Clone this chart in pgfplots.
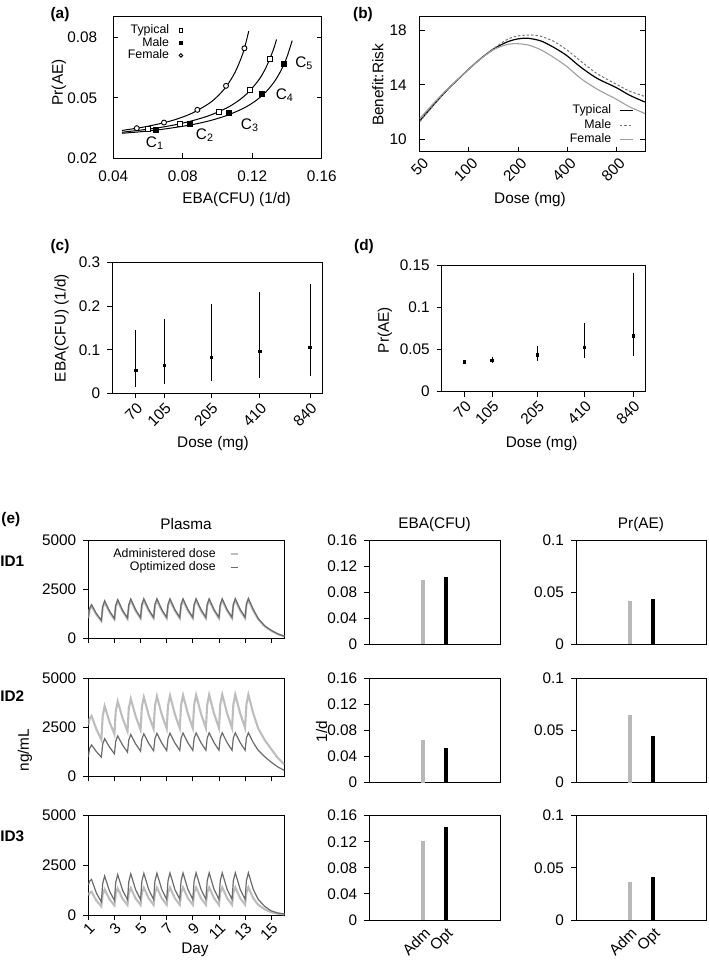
\documentclass[border=0pt]{standalone}
\usepackage{fontspec}
\setmainfont{Liberation Sans}
\usepackage{pgfplots}
\pgfplotsset{compat=1.18}
\definecolor{admgray}{gray}{0.74}
\definecolor{optgray}{gray}{0.42}
\definecolor{femgray}{gray}{0.62}
\definecolor{malegray}{gray}{0.45}
\definecolor{bargray}{gray}{0.72}
\newcommand{\fs}{\fontsize{7.7}{9}\selectfont}
\newcommand{\lfs}{\fontsize{6.2}{7}\selectfont}
\pgfplotsset{
  base/.style={scale only axis, anchor=north west, font=\fs,
    axis line style={line width=0.5bp, black},
    every tick/.style={line width=0.45bp, black},
    major tick length=2.5bp, scaled ticks=false,
    xminorticks=false, yminorticks=false},
  gp/.style={base, tick align=inside, xtick pos=left, ytick pos=both},
  rs/.style={base, tick align=outside, xtick pos=left, ytick pos=left},
  adm/.style={color=admgray, line width=1.05bp},
  opt/.style={color=optgray, line width=0.6bp},
  plasma/.style={rs, width=98bp, xmin=1, xmax=16, ymin=0, ymax=5000,
    xtick={1,3,5,7,9,11,13,15}, ytick={0,2500,5000}, yticklabels={0,2500,5000}},
  eba/.style={rs, width=65.35bp, height=52.15bp, xmin=-2.37, xmax=3.37, ymin=0, ymax=0.16,
    xtick={0,1}, x tick style={draw=none}, ytick={0,0.04,0.08,0.12,0.16},
    yticklabels={0,0.04,0.08,0.12,0.16}},
  prae/.style={rs, width=65bp, height=52.15bp, xmin=-2.3, xmax=3.25, ymin=0, ymax=0.1,
    xtick={0,1}, x tick style={draw=none}, ytick={0,0.05,0.1},
    yticklabels={0,0.05,0.1}},
  dosex/.style={rs, xmin=50, xmax=1000, xtick={70,105,205,410,840},
    xticklabels={70,105,205,410,840},
    xticklabel style={rotate=45, anchor=north east, inner sep=1bp}},
  mklegend/.style={legend image code/.code={\draw[##1, mark size=0.9bp] plot coordinates {(0.9bp,0bp)};}},
}
\begin{document}
\begin{tikzpicture}
\useasboundingbox (0,0) rectangle (354.5bp,-483.5bp);

% ---------------- (a)
\begin{axis}[gp, at={(56.65bp,-8.5bp)}, width=104.2bp, height=70.65bp,
  xmin=0.04, xmax=0.16, ymin=0.02, ymax=0.09,
  xtick={0.04,0.08,0.12,0.16}, xticklabels={0.04,0.08,0.12,0.16},
  ytick={0.02,0.05,0.08}, yticklabels={0.02,0.05,0.08},
  yticklabel style={xshift=-4.5bp}, xticklabel style={yshift=-2.5bp},
  legend style={draw=none, fill=none, at={(0.335,0.955)}, anchor=north east,
    font=\lfs, row sep=-0.8bp, inner sep=0pt, column sep=4.5bp, nodes={inner sep=0.5bp}},
  legend cell align=right, legend plot pos=right]
\addplot[black, line width=0.5bp, smooth, forget plot] coordinates {
 (0.045,0.0338)(0.055,0.0351)(0.065,0.0368)(0.075,0.0390)(0.085,0.0422)(0.095,0.0471)
 (0.100,0.0507)(0.105,0.0555)(0.110,0.0624)(0.114,0.0705)(0.116,0.0761)(0.118,0.0830)};
\addplot[black, line width=0.5bp, smooth, forget plot] coordinates {
 (0.045,0.0329)(0.055,0.0339)(0.065,0.0350)(0.075,0.0365)(0.085,0.0385)(0.095,0.0411)
 (0.105,0.0448)(0.112,0.0485)(0.118,0.0529)(0.124,0.0591)(0.128,0.0651)(0.132,0.0734)(0.134,0.0789)};
\addplot[black, line width=0.5bp, smooth, forget plot] coordinates {
 (0.045,0.0324)(0.055,0.0331)(0.065,0.0340)(0.075,0.0352)(0.085,0.0366)(0.095,0.0385)
 (0.105,0.0411)(0.115,0.0448)(0.122,0.0485)(0.128,0.0530)(0.133,0.0583)(0.137,0.0642)
 (0.140,0.0702)(0.143,0.0783)};
\addplot[only marks, mark=square*, mark size=1.25bp, mark options={fill=white, draw=black, line width=0.45bp}, mklegend]
 coordinates {(0.0602,0.0344)(0.0784,0.0370)(0.1009,0.0430)(0.1187,0.0537)(0.1303,0.0694)};
\addlegendentry{Typical}
\addplot[only marks, mark=square*, mark size=1.25bp, mark options={fill=black, draw=black}, mklegend]
 coordinates {(0.0646,0.0340)(0.0842,0.0369)(0.1068,0.0423)(0.1255,0.0519)(0.1383,0.0666)};
\addlegendentry{Male}
\addplot[only marks, mark=*, mark size=1.25bp, mark options={fill=white, draw=black, line width=0.45bp}, mklegend]
 coordinates {(0.0535,0.0349)(0.0692,0.0377)(0.0884,0.0440)(0.1049,0.0559)(0.1155,0.0745)};
\addlegendentry{Female}
\node[font=\fs] at (axis cs:0.064,0.0274) {C\textsubscript{1}};
\node[font=\fs] at (axis cs:0.0928,0.0316) {C\textsubscript{2}};
\node[font=\fs] at (axis cs:0.1187,0.0365) {C\textsubscript{3}};
\node[font=\fs] at (axis cs:0.1388,0.0514) {C\textsubscript{4}};
\node[font=\fs] at (axis cs:0.150,0.0671) {C\textsubscript{5}};
\end{axis}

% ---------------- (b)
\begin{axis}[gp, xmode=log, at={(209.85bp,-8.35bp)}, width=112.65bp, height=67.5bp,
  xmin=50, xmax=1200, ymin=9.1, ymax=19,
  xtick={50,100,200,400,800}, xticklabels={50,100,200,400,800},
  xticklabel style={rotate=45, anchor=north east, inner sep=1bp, yshift=-1.5bp},
  ytick={10,14,18}, yticklabels={10,14,18}, yticklabel style={xshift=-3bp},
  legend style={draw=none, fill=none, at={(0.95,0.035)}, anchor=south east,
    font=\lfs, row sep=0.3bp, inner sep=0pt, column sep=3.5bp, nodes={inner sep=0.5bp}},
  legend cell align=right, legend plot pos=right,
  legend image code/.code={\draw[#1] (0bp,0bp) -- (6.5bp,0bp);}]
\addplot[black, line width=0.6bp, smooth] coordinates {
 (50,11.36)(63,12.74)(75.8,13.78)(100,15.16)(120.3,16.0)(144.7,16.7)(174.1,17.18)(200,17.37)
 (229.7,17.42)(276.4,17.22)(332.5,16.74)(400,16.13)(481,15.33)(606,14.5)(800,13.8)(962,13.25)(1200,12.74)};
\addlegendentry{Typical}
\addplot[malegray, line width=0.5bp, dash pattern=on 1.2bp off 1bp, smooth] coordinates {
 (50,11.3)(63,12.72)(75.8,13.78)(100,15.16)(120.3,16.0)(144.7,16.74)(174.1,17.37)(200,17.59)
 (240.6,17.66)(276.4,17.56)(332.5,17.18)(400,16.55)(481,15.77)(606,14.85)(800,14.05)(962,13.55)(1200,13.15)};
\addlegendentry{Male}
\addplot[femgray, line width=0.55bp, smooth] coordinates {
 (50,11.53)(63,12.85)(75.8,13.82)(100,15.16)(120.3,15.98)(144.7,16.64)(174.1,16.98)(191,17.03)
 (229.7,16.93)(276.4,16.57)(332.5,16.0)(400,15.33)(481,14.5)(606,13.71)(800,12.95)(962,12.4)(1200,11.9)};
\addlegendentry{Female}
\end{axis}

% ---------------- (c)
\begin{axis}[dosex, xmode=log, at={(56.15bp,-131.35bp)}, width=105bp, height=65.3bp,
  ymin=0, ymax=0.3, ytick={0,0.1,0.2,0.3}, yticklabels={0,0.1,0.2,0.3}]
\addplot[only marks, mark=square*, mark size=0.6bp, black,
  error bars/.cd, y dir=both, y explicit, error mark=none,
  error bar style={line width=0.55bp, black}] coordinates {
 (70,0.0528) += (0,0.0926) -= (0,0.0375)
 (105,0.0643) += (0,0.1057) -= (0,0.0436)
 (205,0.0827) += (0,0.1223) -= (0,0.0537)
 (410,0.0957) += (0,0.1377) -= (0,0.0597)
 (840,0.1048) += (0,0.1462) -= (0,0.0642)};
\end{axis}

% ---------------- (d)
\begin{axis}[dosex, xmode=log, at={(220.85bp,-132.5bp)}, width=101.65bp, height=63.35bp,
  ymin=0, ymax=0.15, ytick={0,0.05,0.1,0.15}, yticklabels={0,0.05,0.1,0.15}]
\addplot[only marks, mark=square*, mark size=0.6bp, black,
  error bars/.cd, y dir=both, y explicit, error mark=none,
  error bar style={line width=0.55bp, black}] coordinates {
 (70,0.0351) += (0,0.0020) -= (0,0.0019)
 (105,0.0371) += (0,0.0036) -= (0,0.0028)
 (205,0.0434) += (0,0.0111) -= (0,0.0067)
 (410,0.0525) += (0,0.0284) -= (0,0.0122)
 (840,0.0659) += (0,0.0741) -= (0,0.0233)};
\end{axis}

% ---------------- (e) row 1
\begin{axis}[plasma, at={(44.15bp,-270bp)}, height=49bp, xticklabels={},
  legend style={draw=none, fill=none, at={(0.77,0.93)}, anchor=north east,
    font=\lfs, row sep=-0.3bp, inner sep=0pt, column sep=6.5bp, nodes={inner sep=0.5bp}},
  legend cell align=right, legend plot pos=right,
  legend image code/.code={\draw[#1] (0bp,0bp) -- (3.5bp,0bp);}]
\addplot[adm] coordinates {
(1,1010)(1.1,1445)(1.25,1630)(1.625,1188)(2,864)
(2.1,1536)(2.25,1824)(2.625,1316)(3,950)
(3.1,1602)(3.25,1882)(3.625,1357)(4,979)
(4.1,1631)(4.25,1910)(4.625,1381)(5,998)
(5.1,1644)(5.25,1920)(5.625,1391)(6,1008)
(6.1,1646)(6.25,1920)(6.625,1391)(7,1008)
(7.1,1646)(7.25,1920)(7.625,1391)(8,1008)
(8.1,1646)(8.25,1920)(8.625,1391)(9,1008)
(9.1,1646)(9.25,1920)(9.625,1391)(10,1008)
(10.1,1646)(10.25,1920)(10.625,1391)(11,1008)
(11.1,1646)(11.25,1920)(11.625,1391)(12,1008)
(12.1,1653)(12.25,1930)(12.625,1398)(13,1013)
(13.1,1662)(13.25,1939)(13.625,1402)(14,960)(14.5,595)(15,374)(15.5,202)(16,86)};
\addlegendentry{Administered dose}
\addplot[opt] coordinates {
(1,1050)(1.1,1505)(1.25,1700)(1.625,1237)(2,900)
(2.1,1600)(2.25,1900)(2.625,1371)(3,990)
(3.1,1669)(3.25,1960)(3.625,1414)(4,1020)
(4.1,1699)(4.25,1990)(4.625,1439)(5,1040)
(5.1,1712)(5.25,2000)(5.625,1449)(6,1050)
(6.1,1715)(6.25,2000)(6.625,1449)(7,1050)
(7.1,1715)(7.25,2000)(7.625,1449)(8,1050)
(8.1,1715)(8.25,2000)(8.625,1449)(9,1050)
(9.1,1715)(9.25,2000)(9.625,1449)(10,1050)
(10.1,1715)(10.25,2000)(10.625,1449)(11,1050)
(11.1,1715)(11.25,2000)(11.625,1449)(12,1050)
(12.1,1722)(12.25,2010)(12.625,1456)(13,1055)
(13.1,1731)(13.25,2020)(13.625,1460)(14,1000)(14.5,620)(15,390)(15.5,210)(16,90)};
\addlegendentry{Optimized dose}
\end{axis}
\begin{axis}[eba, at={(184.65bp,-270bp)}, xticklabels={}]
\addplot[ycomb, bargray, line width=2bp] coordinates {(0,0.0987)};
\addplot[ycomb, black, line width=2bp] coordinates {(1,0.1027)};
\end{axis}
\begin{axis}[prae, at={(288bp,-270bp)}, xticklabels={}]
\addplot[ycomb, bargray, line width=2bp] coordinates {(0,0.0419)};
\addplot[ycomb, black, line width=2bp] coordinates {(1,0.0435)};
\end{axis}

% ---------------- (e) row 2
\begin{axis}[plasma, at={(44.15bp,-339.15bp)}, height=49bp, xticklabels={}]
\addplot[adm] coordinates {
(1,2600)(1.1,2936)(1.25,3080)(1.625,2394)(2,1860)
(2.1,3064)(2.25,3580)(2.625,2774)(3,2150)
(3.1,3319)(3.25,3820)(3.625,2964)(4,2300)
(4.1,3462)(4.25,3960)(4.625,3064)(5,2370)
(5.1,3539)(5.25,4040)(5.625,3120)(6,2410)
(6.1,3586)(6.25,4090)(6.625,3153)(7,2430)
(7.1,3613)(7.25,4120)(7.625,3174)(8,2445)
(8.1,3632)(8.25,4140)(8.625,3188)(9,2455)
(9.1,3642)(9.25,4150)(9.625,3195)(10,2460)
(10.1,3650)(10.25,4160)(10.625,3202)(11,2465)
(11.1,3659)(11.25,4170)(11.625,3209)(12,2470)
(12.1,3660)(12.25,4170)(12.625,3209)(13,2470)
(13.1,3660)(13.25,4170)(13.625,3209)(14,2450)(14.5,1850)(15,1390)(15.5,940)(16,610)};
\addplot[opt] coordinates {
(1,1000)(1.1,1420)(1.25,1600)(1.625,1252)(2,980)
(2.1,1638)(2.25,1920)(2.625,1486)(3,1150)
(3.1,1787)(3.25,2060)(3.625,1592)(4,1230)
(4.1,1860)(4.25,2130)(4.625,1651)(5,1280)
(5.1,1903)(5.25,2170)(5.625,1680)(6,1300)
(6.1,1923)(6.25,2190)(6.625,1694)(7,1310)
(7.1,1933)(7.25,2200)(7.625,1704)(8,1320)
(8.1,1943)(8.25,2210)(8.625,1708)(9,1320)
(9.1,1943)(9.25,2210)(9.625,1714)(10,1330)
(10.1,1953)(10.25,2220)(10.625,1718)(11,1330)
(11.1,1953)(11.25,2220)(11.625,1718)(12,1330)
(12.1,1953)(12.25,2220)(12.625,1718)(13,1330)
(13.1,1953)(13.25,2220)(13.625,1718)(14,1330)(14.5,1000)(15,720)(15.5,480)(16,300)};
\end{axis}
\begin{axis}[eba, at={(184.65bp,-339.15bp)}, xticklabels={}]
\addplot[ycomb, bargray, line width=2bp] coordinates {(0,0.0654)};
\addplot[ycomb, black, line width=2bp] coordinates {(1,0.0527)};
\end{axis}
\begin{axis}[prae, at={(288bp,-339.15bp)}, xticklabels={}]
\addplot[ycomb, bargray, line width=2bp] coordinates {(0,0.0649)};
\addplot[ycomb, black, line width=2bp] coordinates {(1,0.0450)};
\end{axis}

% ---------------- (e) row 3
\begin{axis}[plasma, at={(44.15bp,-407.5bp)}, height=50bp,
  xticklabels={1,3,5,7,9,11,13,15},
  xticklabel style={rotate=45, anchor=north east, inner sep=0.5bp}]
\addplot[adm] coordinates {
(1,983)(1.1,1110)(1.25,1166)(1.625,710)(2,432)
(2.1,1024)(2.25,1277)(2.625,781)(3,478)
(3.1,1070)(3.25,1323)(3.625,812)(4,498)
(4.1,1094)(4.25,1349)(4.625,825)(5,504)
(5.1,1105)(5.25,1362)(5.625,832)(6,508)
(6.1,1111)(6.25,1369)(6.625,836)(7,511)
(7.1,1116)(7.25,1376)(7.625,838)(8,511)
(8.1,1116)(8.25,1376)(8.625,838)(9,511)
(9.1,1121)(9.25,1382)(9.625,840)(10,511)
(10.1,1121)(10.25,1382)(10.625,840)(11,511)
(11.1,1121)(11.25,1382)(11.625,840)(12,511)
(12.1,1121)(12.25,1382)(12.625,840)(13,511)
(13.1,1121)(13.25,1382)(13.625,840)(14,511)(14.5,282)(15,138)(15.5,66)(16,33)};
\addplot[opt] coordinates {
(1,1500)(1.1,1696)(1.25,1780)(1.625,1084)(2,660)
(2.1,1563)(2.25,1950)(2.625,1193)(3,730)
(3.1,1633)(3.25,2020)(3.625,1239)(4,760)
(4.1,1670)(4.25,2060)(4.625,1259)(5,770)
(5.1,1687)(5.25,2080)(5.625,1270)(6,775)
(6.1,1696)(6.25,2090)(6.625,1277)(7,780)
(7.1,1704)(7.25,2100)(7.625,1280)(8,780)
(8.1,1704)(8.25,2100)(8.625,1280)(9,780)
(9.1,1711)(9.25,2110)(9.625,1283)(10,780)
(10.1,1711)(10.25,2110)(10.625,1283)(11,780)
(11.1,1711)(11.25,2110)(11.625,1283)(12,780)
(12.1,1711)(12.25,2110)(12.625,1283)(13,780)
(13.1,1711)(13.25,2110)(13.625,1283)(14,780)(14.5,430)(15,210)(15.5,100)(16,50)};
\end{axis}
\begin{axis}[eba, at={(184.65bp,-407.85bp)}, xticklabels={Adm,Opt},
  xticklabel style={rotate=45, anchor=north east, inner sep=0.3bp}]
\addplot[ycomb, bargray, line width=2bp] coordinates {(0,0.1211)};
\addplot[ycomb, black, line width=2bp] coordinates {(1,0.1431)};
\end{axis}
\begin{axis}[prae, at={(288bp,-407.85bp)}, xticklabels={Adm,Opt},
  xticklabel style={rotate=45, anchor=north east, inner sep=0.3bp}]
\addplot[ycomb, bargray, line width=2bp] coordinates {(0,0.0367)};
\addplot[ycomb, black, line width=2bp] coordinates {(1,0.0415)};
\end{axis}

% ---------------- labels
\begin{scope}[every node/.style={font=\fs}]
\node[font=\fs\bfseries] at (30bp,-7.5bp) {(a)};
\node[font=\fs\bfseries] at (181.5bp,-7.5bp) {(b)};
\node[font=\fs\bfseries] at (30bp,-123.5bp) {(c)};
\node[font=\fs\bfseries] at (182bp,-123.5bp) {(d)};
\node[font=\fs\bfseries, anchor=west, inner sep=0pt] at (0.5bp,-260bp) {(e)};
\node[font=\fs\bfseries, anchor=west, inner sep=0pt] at (0bp,-280.5bp) {ID1};
\node[font=\fs\bfseries, anchor=west, inner sep=0pt] at (0bp,-348.3bp) {ID2};
\node[font=\fs\bfseries, anchor=west, inner sep=0pt] at (0bp,-418.3bp) {ID3};
\node at (118.3bp,-100bp) {EBA(CFU) (1/d)};
\node[rotate=90] at (29.5bp,-41.2bp) {Pr(AE)};
\node at (265bp,-100bp) {Dose (mg)};
\node[rotate=90] at (189bp,-42.5bp) {Benefit:Risk};
\node[rotate=90] at (30.8bp,-164bp) {EBA(CFU) (1/d)};
\node at (106.5bp,-222bp) {Dose (mg)};
\node[rotate=90] at (192.5bp,-165bp) {Pr(AE)};
\node at (270.8bp,-222bp) {Dose (mg)};
\node at (93bp,-262bp) {Plasma};
\node at (217.3bp,-262.5bp) {EBA(CFU)};
\node at (320.5bp,-262.5bp) {Pr(AE)};
\node[rotate=90] at (12.5bp,-375bp) {ng/mL};
\node[rotate=90] at (160.8bp,-365.8bp) {1/d};
\node at (97.5bp,-475bp) {Day};
\end{scope}
\end{tikzpicture}
\end{document}
